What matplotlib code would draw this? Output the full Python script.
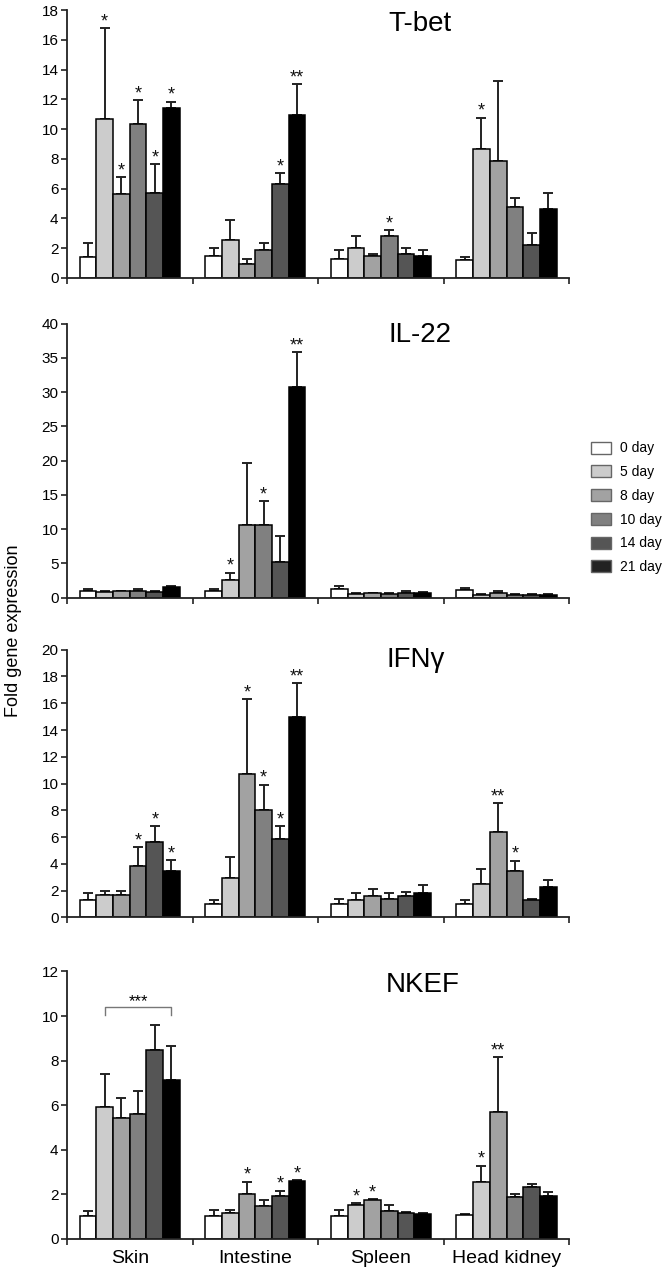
import numpy as np
import matplotlib
matplotlib.use("Agg")
from matplotlib import pyplot as plt
from matplotlib.patches import Patch

plt.rcParams['font.family'] = ['Liberation Sans', 'DejaVu Sans']

# tissues and time points
tissues = ["Skin", "Intestine", "Spleen", "Head kidney"]
days = ["0 day", "5 day", "8 day", "10 day", "14 day", "21 day"]
colors = ["#ffffff", "#cccccc", "#a2a2a2", "#808080", "#555555", "#000000"]
leg_colors = ["#ffffff", "#cccccc", "#a2a2a2", "#808080", "#555555", "#222222"]

# T-bet: mean (rows = tissues, cols = days), upper error-bar top, significance
tbet_mean = [[1.4, 10.67, 5.6, 10.33, 5.73, 11.44],
             [1.49, 2.56, 0.93, 1.87, 6.33, 10.98],
             [1.27, 1.98, 1.49, 2.8, 1.6, 1.47],
             [1.16, 8.67, 7.84, 4.78, 2.2, 4.62]]
tbet_top = [[2.33, 16.8, 6.78, 11.96, 7.62, 11.84],
            [1.98, 3.87, 1.29, 2.33, 7.02, 13.02],
            [1.87, 2.78, 1.6, 3.18, 1.98, 1.87],
            [1.38, 10.78, 13.24, 5.36, 3.0, 5.71]]
tbet_sig = [["", "*", "*", "*", "*", "*"],
            ["", "", "", "", "*", "**"],
            ["", "", "", "*", "", ""],
            ["", "*", "", "", "", ""]]

# IL-22
il22_mean = [[1.0, 0.8, 0.9, 1.0, 0.8, 1.5],
             [1.0, 2.5, 10.6, 10.6, 5.2, 30.7],
             [1.2, 0.5, 0.6, 0.5, 0.7, 0.6],
             [1.1, 0.4, 0.7, 0.4, 0.4, 0.4]]
il22_top = [[1.3, 1.0, 1.0, 1.2, 1.0, 1.7],
            [1.3, 3.6, 19.7, 14.1, 9.0, 35.8],
            [1.7, 0.6, 0.7, 0.6, 0.9, 0.8],
            [1.4, 0.5, 0.9, 0.5, 0.5, 0.5]]
il22_sig = [["", "", "", "", "", ""],
            ["", "*", "", "*", "", "**"],
            ["", "", "", "", "", ""],
            ["", "", "", "", "", ""]]

# IFNγ
ifng_mean = [[1.3, 1.7, 1.7, 3.87, 5.6, 3.45],
             [1.0, 2.9, 10.7, 8.0, 5.87, 14.98],
             [1.0, 1.3, 1.6, 1.4, 1.6, 1.8],
             [1.0, 2.5, 6.38, 3.47, 1.3, 2.27]]
ifng_top = [[1.8, 2.0, 2.0, 5.22, 6.8, 4.27],
            [1.3, 4.5, 16.3, 9.9, 6.8, 17.48],
            [1.4, 1.8, 2.1, 1.8, 1.9, 2.4],
            [1.3, 3.6, 8.55, 4.24, 1.4, 2.77]]
ifng_sig = [["", "", "", "*", "*", "*"],
            ["", "", "*", "*", "*", "**"],
            ["", "", "", "", "", ""],
            ["", "", "**", "*", "", ""]]

# NKEF
nkef_mean = [[1.03, 5.92, 5.42, 5.59, 8.48, 7.14],
             [1.04, 1.15, 2.01, 1.48, 1.94, 2.59],
             [1.05, 1.52, 1.76, 1.27, 1.15, 1.13],
             [1.06, 2.56, 5.68, 1.86, 2.32, 1.94]]
nkef_top = [[1.27, 7.38, 6.33, 6.65, 9.6, 8.64],
            [1.3, 1.3, 2.56, 1.77, 2.16, 2.64],
            [1.3, 1.6, 1.78, 1.53, 1.19, 1.18],
            [1.12, 3.29, 8.15, 2.0, 2.47, 2.09]]
nkef_sig = [["", "", "", "", "", ""],
            ["", "", "*", "", "*", "*"],
            ["", "*", "*", "", "", ""],
            ["", "*", "**", "", "", ""]]

genes = ["T-bet", "IL-22", "IFNγ", "NKEF"]
means = [tbet_mean, il22_mean, ifng_mean, nkef_mean]
tops = [tbet_top, il22_top, ifng_top, nkef_top]
sigs = [tbet_sig, il22_sig, ifng_sig, nkef_sig]
ymax = [18, 40, 20, 12]
ystep = [2, 5, 2, 2]

# axes boxes [left, bottom, width, height] in figure fraction
boxes = [[0.100, 0.782, 0.751, 0.210],
         [0.100, 0.531, 0.751, 0.215],
         [0.100, 0.280, 0.751, 0.210],
         [0.100, 0.0275, 0.751, 0.210]]
title_pos = [(0.628, 0.981), (0.628, 0.737), (0.622, 0.482), (0.632, 0.227)]

fig = plt.figure(figsize=(6.69, 12.74), dpi=100)
bw = 0.133
spine_c = "#222222"

for p in range(4):
    ax = fig.add_axes(boxes[p])
    m = np.array(means[p])
    t = np.array(tops[p])
    for d in range(6):
        x = np.arange(4) + 0.5 + (d - 2.5) * bw
        ax.bar(x, m[:, d], width=bw, color=colors[d], edgecolor="black",
               linewidth=1.1, zorder=2)
        ax.errorbar(x, m[:, d], yerr=[np.zeros(4), t[:, d] - m[:, d]], fmt="none",
                    ecolor="#222222", elinewidth=1.4, capsize=3.5, capthick=1.4, zorder=1)
        for g in range(4):
            s = sigs[p][g][d]
            if s:
                ax.annotate(s, (x[g], t[g, d]), xytext=(0, -1.5), textcoords="offset points",
                            ha="center", va="bottom", fontsize=13, color="#111111")
    ax.set_xlim(0, 4)
    ax.set_ylim(0, ymax[p])
    ax.set_yticks(np.arange(0, ymax[p] + 1, ystep[p]))
    ax.set_xticks(np.arange(5))
    ax.set_xticklabels([])
    ax.tick_params(axis="both", direction="out", length=4, width=1.2, color=spine_c,
                   labelsize=11, pad=2)
    for sp in ["top", "right"]:
        ax.spines[sp].set_visible(False)
    for sp in ["left", "bottom"]:
        ax.spines[sp].set_linewidth(1.3)
        ax.spines[sp].set_color(spine_c)
    fig.text(title_pos[p][0], title_pos[p][1], genes[p], fontsize=20, ha="center", va="center")

    if p == 3:
        ax.set_xticks(np.arange(4) + 0.5, minor=True)
        ax.set_xticklabels(tissues, minor=True, fontsize=14)
        ax.tick_params(axis="x", which="minor", length=0, pad=8)
        # bracket over skin 5-21 day
        x1 = 0.5 + (1 - 2.5) * bw
        x2 = 0.5 + (5 - 2.5) * bw
        ax.plot([x1, x1, x2, x2], [10.06, 10.4, 10.4, 10.06], color="#777777", lw=1)
        ax.annotate("***", ((x1 + x2) / 2, 10.4), xytext=(0, -1.5), textcoords="offset points",
                    ha="center", va="bottom", fontsize=12)

handles = [Patch(facecolor=leg_colors[i], edgecolor="#666666", label=days[i]) for i in range(6)]
fig.legend(handles=handles, loc="upper left", bbox_to_anchor=(0.871, 0.66), frameon=False,
           fontsize=10, handlelength=1.45, handleheight=0.95, labelspacing=0.7,
           handletextpad=0.6, borderaxespad=0.2)

fig.text(0.02, 0.505, "Fold gene expression", rotation=90, fontsize=13, ha="center", va="center")

fig.savefig("out.png", dpi=100)
